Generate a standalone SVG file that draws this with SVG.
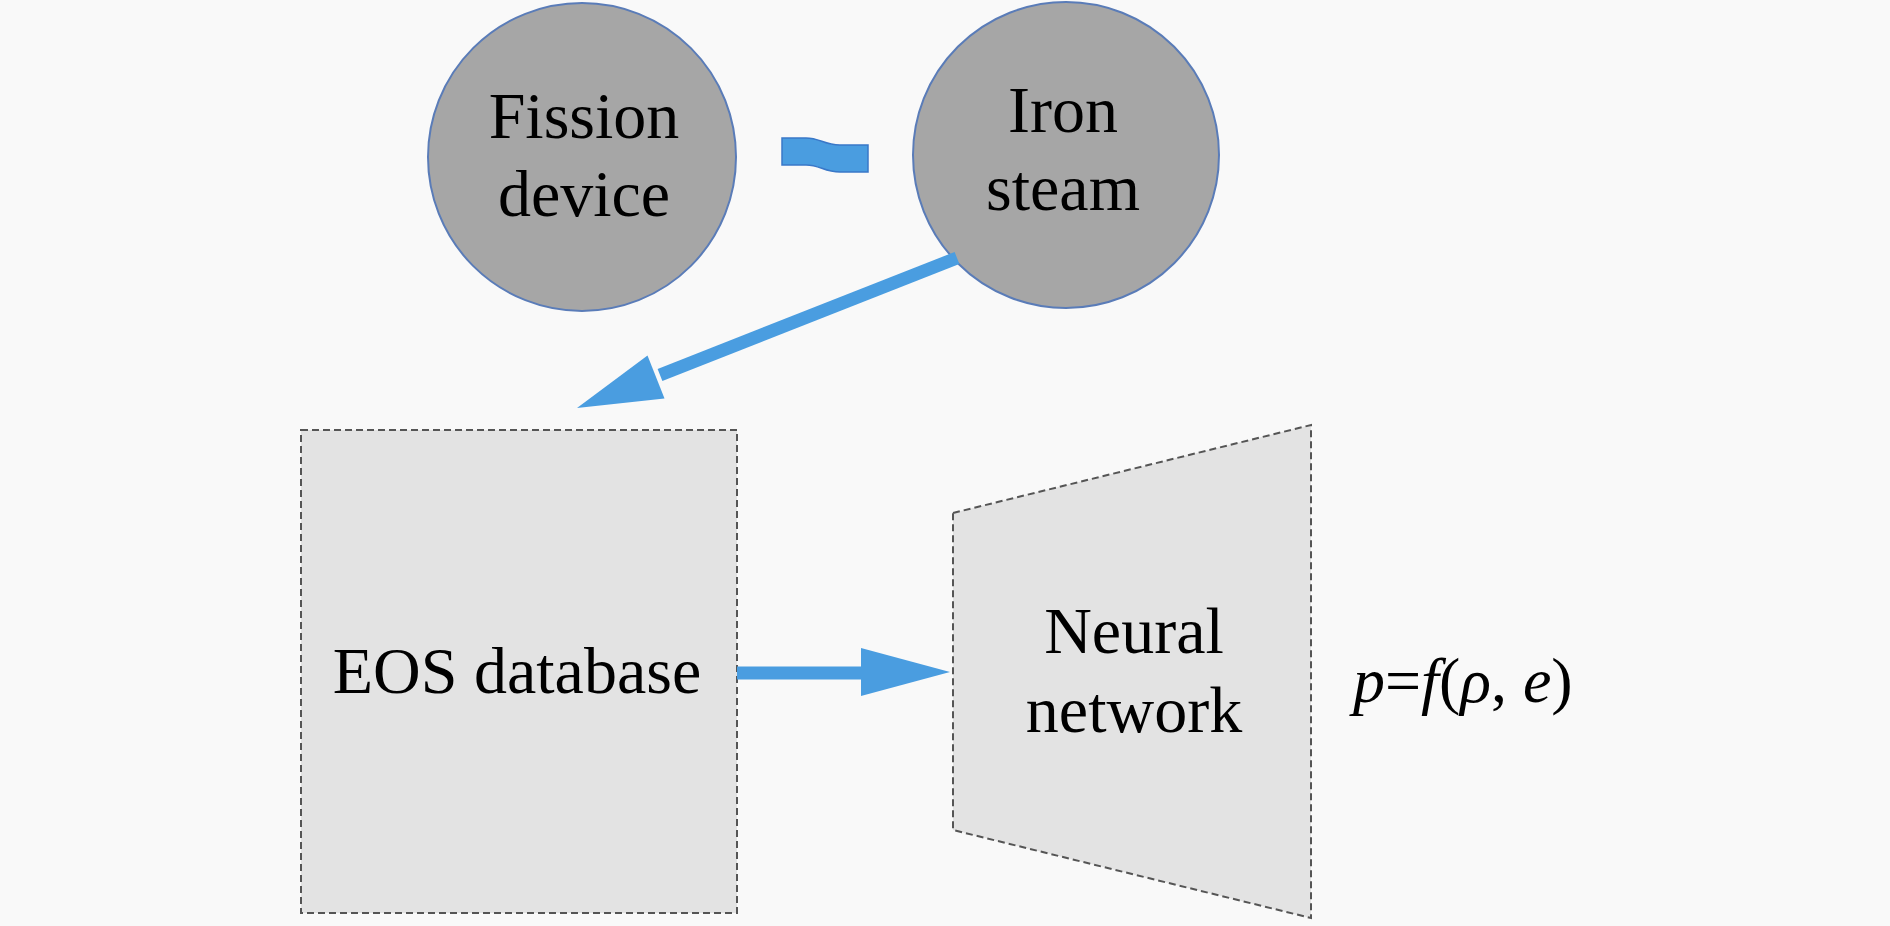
<svg xmlns="http://www.w3.org/2000/svg" width="1890" height="926" viewBox="0 0 1890 926">
<style>
.circ{fill:#a6a6a6;stroke:#5a7cb8;stroke-width:2}
.box{fill:#e3e3e3;stroke:#555;stroke-width:2;stroke-dasharray:7 4}
.lbl{font-family:"Liberation Serif","Times New Roman",serif;font-size:66px;fill:#000;text-anchor:middle}
.conn{stroke:#4a9de0;stroke-width:13;fill:none}
.head{fill:#4a9de0}
</style>
<rect width="1890" height="926" fill="#f9f9f9"/>
<g id="fission">
<circle class="circ" cx="582" cy="157" r="154"/>
<text class="lbl" x="584" y="138">Fission</text>
<text class="lbl" x="584" y="216">device</text>
</g>
<g id="iron">
<circle class="circ" cx="1066" cy="155" r="153"/>
<text class="lbl" x="1063" y="132">Iron</text>
<text class="lbl" x="1063" y="210">steam</text>
</g>
<g id="tilde">
<path d="M782,138 L806,138 C820,138 824,145 840,145 L868,145 L868,172 L840,172 C824,172 820,165 806,165 L782,165 Z" fill="#4a9de0" stroke="#3a78c8" stroke-width="1.5"/>
</g>
<g id="eos">
<rect class="box" x="301" y="430" width="436" height="483"/>
<text class="lbl" x="517" y="693">EOS database</text>
</g>
<g id="nn">
<polygon class="box" points="953,513 1311,425 1311,918 953,830"/>
<text class="lbl" x="1134" y="653">Neural</text>
<text class="lbl" x="1134" y="732">network</text>
</g>
<g id="formula">
<text x="1353" y="702" style="font-family:'Liberation Serif','Times New Roman',serif;font-size:64px;fill:#000"><tspan font-style="italic">p</tspan>=<tspan font-style="italic">f</tspan>(<tspan font-style="italic">ρ</tspan>, <tspan font-style="italic">e</tspan>)</text>
</g>
<g id="connectors">
<line class="conn" x1="957" y1="258" x2="660" y2="375"/>
<polygon class="head" points="577,408 647.5,355.6 664.5,398.4"/>
<line class="conn" x1="737" y1="673" x2="865" y2="673"/>
<polygon class="head" points="950,672 861,648 861,696"/>
</g>
</svg>
